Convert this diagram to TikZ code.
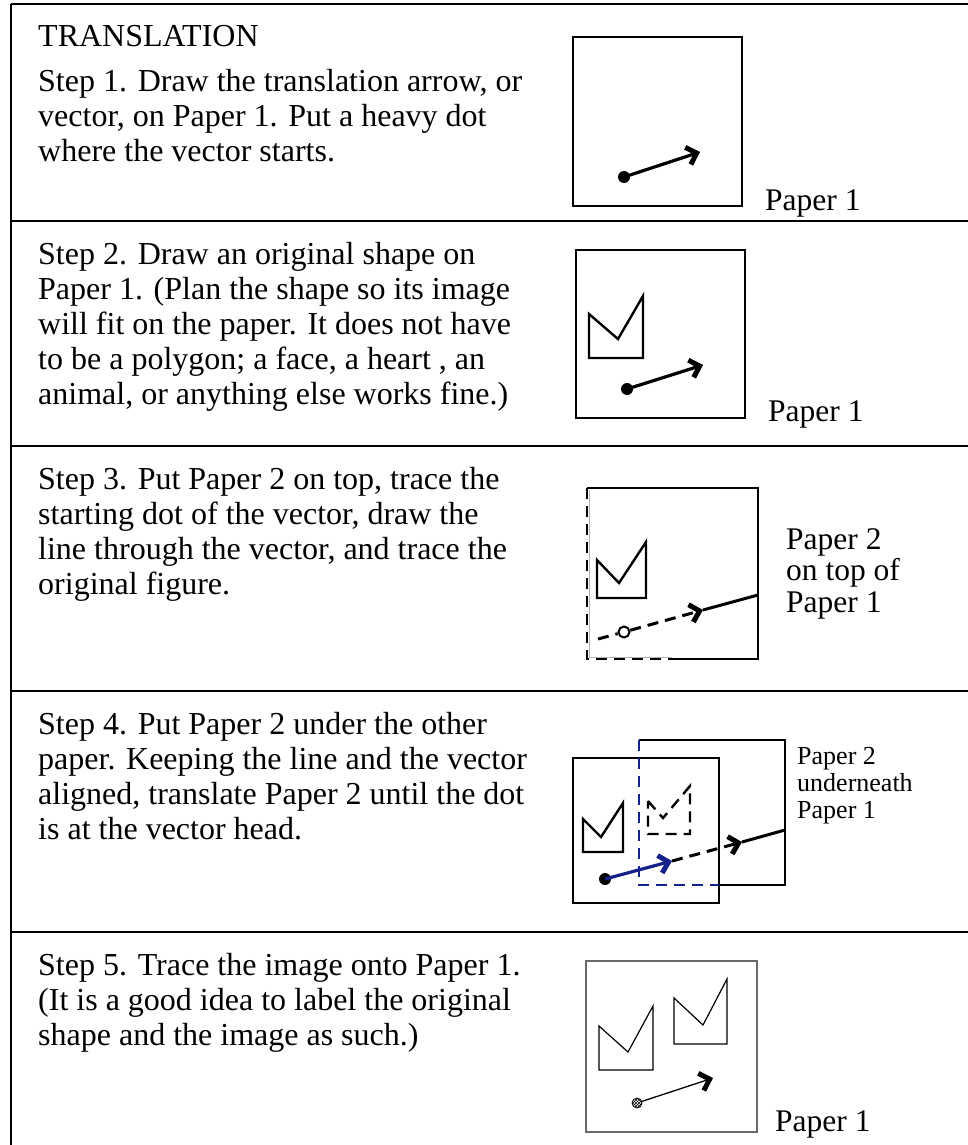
\documentclass[tikz,border=0pt]{standalone}
\usepackage{fontspec}
\setmainfont{Liberation Serif}
\usetikzlibrary{arrows.meta, positioning, patterns}
\definecolor{TraceBlue}{RGB}{22,34,140}
\definecolor{PaperGray}{RGB}{105,105,105}

\tikzset{
  rule/.style={line width=2.6pt},
  paper/.style={line width=2.3pt},
  thinpaper/.style={line width=1.1pt, draw=PaperGray},
  crown/.style={line width=2.4pt, line join=miter},
  thincrown/.style={line width=1.2pt, line join=miter},
  tracedash/.style={dash pattern=on 11pt off 7pt},
  barb/.style={-{Straight Barb[length=9pt,width=18pt,line width=5pt]}},
  vec/.style={line width=3.2pt, barb},
  thinvec/.style={line width=1.3pt, barb},
  dot/.style={circle, fill, inner sep=0pt, minimum size=12pt},
  ring/.style={circle, draw, fill=white, line width=2pt, inner sep=0pt, minimum size=11pt},
  hatchdot/.style={circle, draw, line width=0.8pt, pattern=crosshatch, inner sep=0pt, minimum size=10pt},
  steptext/.style={anchor=north west, inner sep=0pt, align=left, font=\fontsize{32}{35}\selectfont},
  papertag/.style={anchor=north west, inner sep=0pt, align=left, font=\fontsize{31.5}{31.7}\selectfont},
  smalltag/.style={anchor=north west, inner sep=0pt, align=left, font=\fontsize{26}{27}\selectfont}
}

\begin{document}
\begin{tikzpicture}[x=1pt,y=-1pt]
\useasboundingbox (0,0) rectangle (968,1145);

% frame
\draw[rule] (11,4) -- (11,1145);
\foreach \y in {4,221,446,691,932}
  \draw[rule] (11,\y) -- (968,\y);

% texts
\node[steptext] (title) at (38,25) {TRANSLATION};
\node[steptext] (step1) at (38,69) {Step 1. Draw the translation arrow, or\\
vector, on Paper 1. Put a heavy dot\\
where the vector starts.};
\node[steptext] (step2) at (38,242) {Step 2. Draw an original shape on\\
Paper 1. (Plan the shape so its image\\
will fit on the paper. It does not have\\
to be a polygon; a face, a heart , an\\
animal, or anything else works fine.)};
\node[steptext] (step3) at (38,467) {Step 3. Put Paper 2 on top, trace the\\
starting dot of the vector, draw the\\
line through the vector, and trace the\\
original figure.};
\node[steptext] (step4) at (38,712) {Step 4. Put Paper 2 under the other\\
paper. Keeping the line and the vector\\
aligned, translate Paper 2 until the dot\\
is at the vector head.};
\node[steptext] (step5) at (38,953) {Step 5. Trace the image onto Paper 1.\\
(It is a good idea to label the original\\
shape and the image as such.)};

% step 1
\draw[paper] (573,37) rectangle (742,206);
\node[dot] (dotA) at (624,177) {};
\coordinate (headA) at (700,152);
\draw[vec] (dotA.center) -- (headA);
\node[papertag] (tagA) at (765,190) {Paper 1};

% step 2
\draw[paper] (576,250) rectangle (745,418);
\draw[crown] (589,314) -- (618,339) -- (643,296) -- (643,358) -- (589,358) -- cycle;
\node[dot] (dotB) at (627,389) {};
\coordinate (headB) at (703,365);
\draw[vec] (dotB.center) -- (headB);
\node[papertag] (tagB) at (768,401) {Paper 1};

% step 3
\draw[paper] (672,659) -- (758,659) -- (758,488) -- (587,488);
\draw[gray!60, line width=0.7pt] (589,490) -- (589,657) -- (672,657);
\draw[paper, tracedash] (587,488) -- (587,659) -- (672,659);
\draw[crown] (597,560) -- (619,583) -- (646,542) -- (646,598) -- (597,598) -- cycle;
\coordinate (tailC) at (598,639);
\node[ring] (ringC) at (624,632) {};
\coordinate (headC) at (703,610);
\coordinate (edgeC) at (758,595);
\draw[line width=3pt, tracedash] (tailC) -- (ringC);
\draw[line width=3pt, tracedash, barb] (ringC) -- (headC);
\draw[line width=3pt] (headC) -- (edgeC);
\node[papertag] (tagC) at (786,528) {Paper 2\\on top of\\Paper 1};

% step 4
\draw[paper] (639,740) -- (785,740) -- (785,885) -- (719,885);
\draw[paper] (573,758) rectangle (719,903);
\draw[paper, TraceBlue, tracedash] (639,740) -- (639,885) -- (719,885);
\draw[crown] (583,819) -- (601,837) -- (623,803) -- (623,852) -- (583,852) -- cycle;
\draw[crown, tracedash] (648,801) -- (663,818) -- (690,786) -- (690,834) -- (648,834) -- cycle;
\node[dot] (dotD) at (605,879) {};
\coordinate (headD) at (672,861);
\coordinate (nextD) at (742,842);
\coordinate (edgeD) at (785,830);
\draw[vec, TraceBlue] (dotD.center) -- (headD);
\draw[line width=3pt, tracedash, barb] (headD) -- (nextD);
\draw[line width=3pt] (nextD) -- (edgeD);
\node[smalltag] (tagD) at (797,747) {Paper 2\\underneath\\Paper 1};

% step 5
\draw[thinpaper] (586,961) rectangle (757,1132);
\draw[thincrown] (599,1026) -- (628,1052) -- (653,1006) -- (653,1070) -- (599,1070) -- cycle;
\draw[thincrown] (674,998) -- (703,1025) -- (727,979) -- (727,1044) -- (674,1044) -- cycle;
\node[hatchdot] (dotE) at (637,1103) {};
\coordinate (headE) at (713,1078);
\draw[thinvec] (dotE) -- (headE);
\node[papertag] (tagE) at (775,1110) {Paper 1};
\end{tikzpicture}
\end{document}
